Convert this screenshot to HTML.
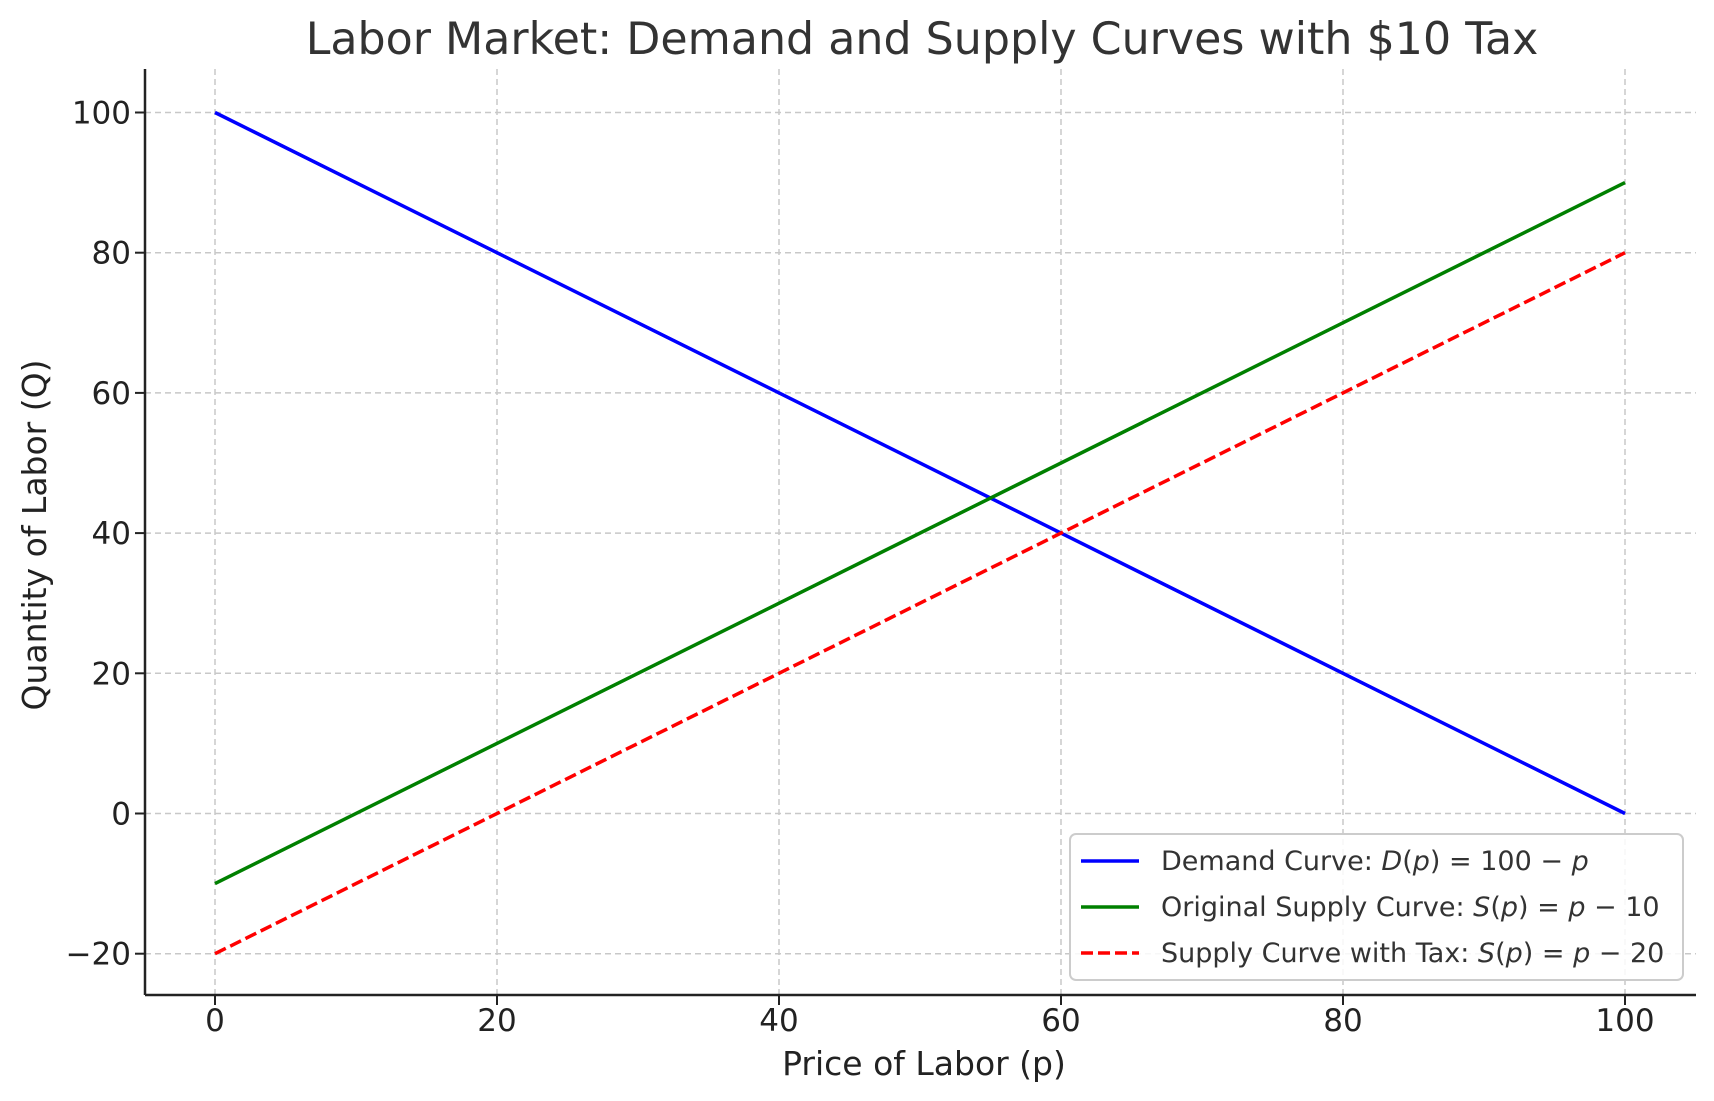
<!DOCTYPE html>
<html><head><meta charset="utf-8"><style>
body{margin:0;background:#fff}
svg{display:block;font-family:"DejaVu Sans","Liberation Sans",sans-serif}
</style></head><body>
<svg id="chart" width="1714" height="1101" viewBox="0 0 1714 1101" xmlns="http://www.w3.org/2000/svg">
<rect width="1714" height="1101" fill="#fff"/>
<text x="922" y="54" font-size="44.3" text-anchor="middle" fill="#333">Labor Market: Demand and Supply Curves with $10 Tax</text>
<g id="grid"></g>
<g id="lines"></g>
<g id="axes"></g>
<text x="924" y="1075" font-size="33" text-anchor="middle" fill="#222">Price of Labor (p)</text>
<text transform="translate(46,535) rotate(-90)" font-size="33" text-anchor="middle" fill="#222">Quantity of Labor (Q)</text>
<g id="legend" transform="translate(-7,-4)">
<rect x="1077" y="838" width="613" height="146" rx="6" fill="#fff" fill-opacity="0.85" stroke="#ccc" stroke-width="2"/>
<line x1="1088" y1="865" x2="1146" y2="865" stroke="#0000ff" stroke-width="3.5"/>
<text x="1168" y="874" font-size="27" fill="#333">Demand Curve: <tspan font-style="italic">D</tspan>(<tspan font-style="italic">p</tspan>) = 100 − <tspan font-style="italic">p</tspan></text>
<line x1="1088" y1="911" x2="1146" y2="911" stroke="#008000" stroke-width="3.5"/>
<text x="1168" y="920" font-size="27" fill="#333">Original Supply Curve: <tspan font-style="italic">S</tspan>(<tspan font-style="italic">p</tspan>) = <tspan font-style="italic">p</tspan> − 10</text>
<line x1="1088" y1="957" x2="1146" y2="957" stroke="#ff0000" stroke-width="3.5" stroke-dasharray="12,5"/>
<text x="1168" y="966" font-size="27" fill="#333">Supply Curve with Tax: <tspan font-style="italic">S</tspan>(<tspan font-style="italic">p</tspan>) = <tspan font-style="italic">p</tspan> − 20</text>
</g>
</svg>
<script>
const xTicks = [0, 20, 40, 60, 80, 100];
const yTicks = [-20, 0, 20, 40, 60, 80, 100];
const prices = [0, 100];
const demand = [100, 0];
const supply = [-10, 90];
const supplyTax = [-20, 80];

const NS = 'http://www.w3.org/2000/svg';
const L = 145, R = 1696, T = 69, B = 995;
function xs(v){ return 215 + v * (1625 - 215) / 100; }
function ys(v){ return 813.5 - v * 7.01; }
function mk(tag, attrs, parent){
  const e = document.createElementNS(NS, tag);
  for (const k in attrs) e.setAttribute(k, attrs[k]);
  parent.appendChild(e);
  return e;
}
const grid = document.getElementById('grid');
const axes = document.getElementById('axes');
const lines = document.getElementById('lines');
xTicks.forEach(v => {
  const g = mk('line', {x1: xs(v), x2: xs(v), y1: T, y2: B, stroke: '#c8c8c8', 'stroke-width': 1.5, 'stroke-dasharray': '6,4'}, grid);
  
  
  const t = mk('line', {x1: xs(v), x2: xs(v), y1: B, y2: B + 10, stroke: '#222', 'stroke-width': 2}, axes);
  
  
  const l = mk('text', {x: xs(v), y: B + 36, 'font-size': 31, 'text-anchor': 'middle', fill: '#222'}, axes);
  l.textContent = String(v);
  
  
});
yTicks.forEach(v => {
  const g = mk('line', {x1: L, x2: R, y1: ys(v), y2: ys(v), stroke: '#c8c8c8', 'stroke-width': 1.5, 'stroke-dasharray': '6,4'}, grid);
  
  
  const t = mk('line', {x1: L - 10, x2: L, y1: ys(v), y2: ys(v), stroke: '#222', 'stroke-width': 2}, axes);
  
  
  const l = mk('text', {x: L - 14, y: ys(v) + 11, 'font-size': 31, 'text-anchor': 'end', fill: '#222'}, axes);
  l.textContent = v < 0 ? '\u2212' + Math.abs(v) : String(v);
  
  
});
const la = mk('line', {x1: L, x2: L, y1: T, y2: B, stroke: '#222', 'stroke-width': 2.5}, axes);


const ba = mk('line', {x1: L, x2: R, y1: B, y2: B, stroke: '#222', 'stroke-width': 2.5}, axes);


function series(vals, color, dash, name){
  const pts = prices.map((p, i) => xs(p) + ',' + ys(vals[i])).join(' ');
  const a = {points: pts, fill: 'none', stroke: color, 'stroke-width': 3.5};
  if (dash) a['stroke-dasharray'] = dash;
  const e = mk('polyline', a, lines);
  
  
}
series(demand, '#0000ff', null, 'demand-line');
series(supply, '#008000', null, 'supply-line');
series(supplyTax, '#ff0000', '12,5', 'supply-tax-line');
</script>
</body></html>
